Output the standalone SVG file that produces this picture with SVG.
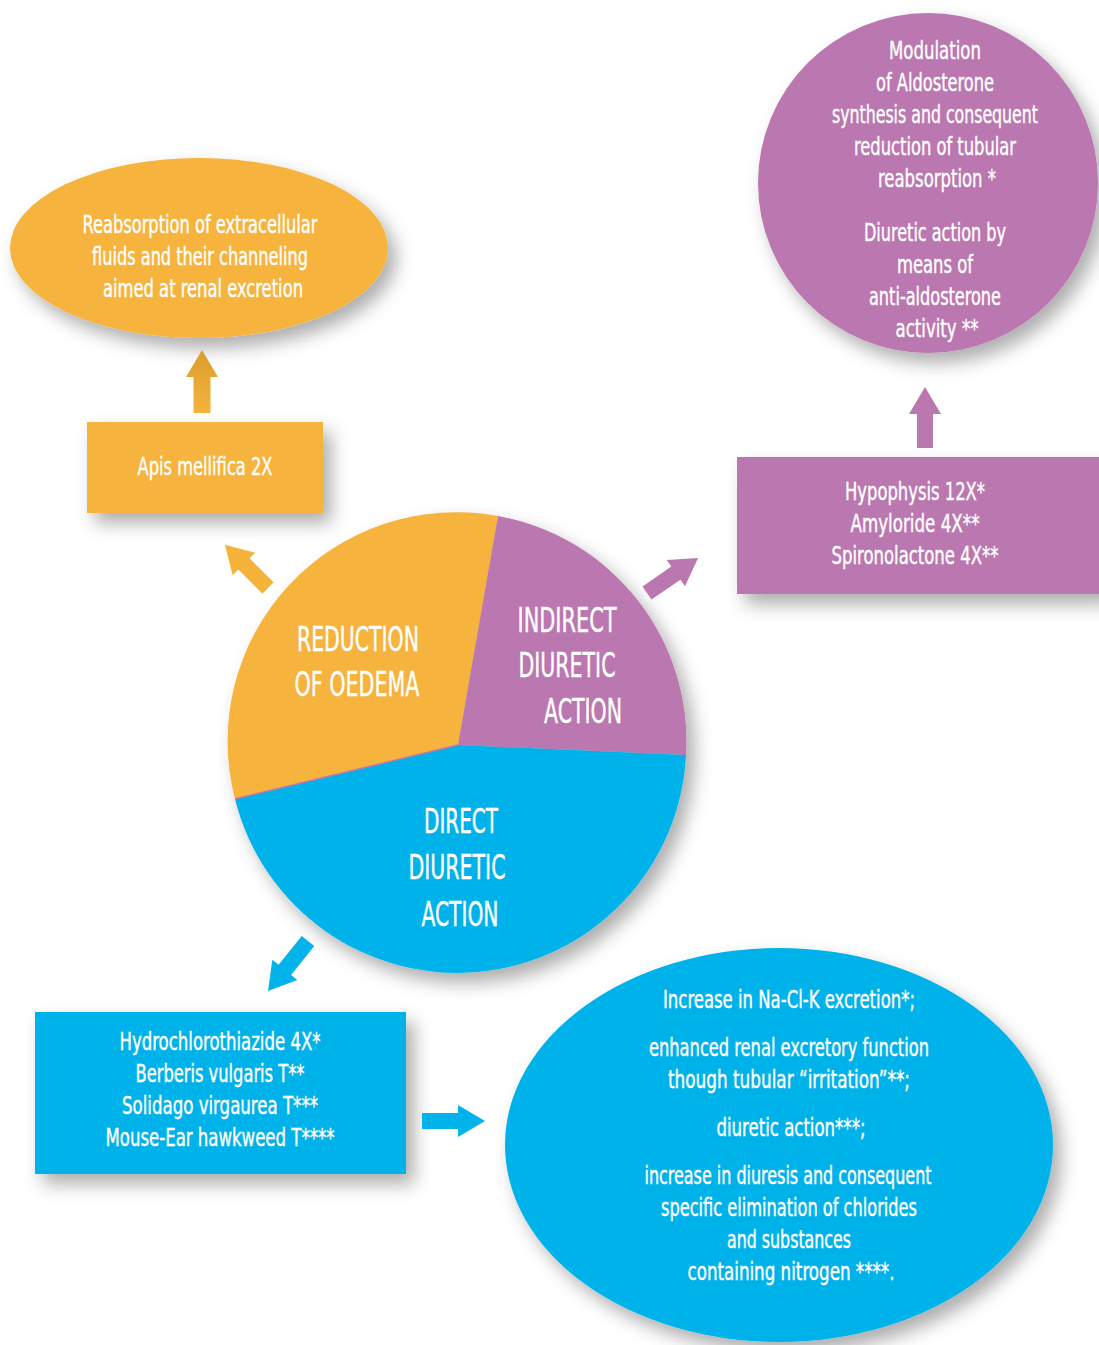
<svg xmlns="http://www.w3.org/2000/svg" width="1099" height="1345" viewBox="0 0 1099 1345">
<defs>
<filter id="sh" x="-20%" y="-20%" width="150%" height="150%">
<feDropShadow dx="8" dy="10" stdDeviation="9" flood-color="#000" flood-opacity="0.32"/>
</filter>
<linearGradient id="og" x1="0" y1="0" x2="1" y2="0">
<stop offset="0" stop-color="#F6B33C"/>
<stop offset="1" stop-color="#D99E2E"/>
</linearGradient>
<style>
text{font-family:"Liberation Sans Narrow","DejaVu Sans Condensed","Liberation Sans",sans-serif;font-stretch:condensed;fill:#fff;text-anchor:middle;stroke:#fff;stroke-width:0.4;}
.s{font-size:24px;}
.b{font-size:34px;}
.o{fill:#F6B33C;}
.p{fill:#BB77B0;}
.c{fill:#02B2EA;}
</style>
</defs>
<rect width="1099" height="1345" fill="#fff"/>

<g id="oedema-goal" filter="url(#sh)">
<ellipse class="o" cx="199" cy="248" rx="189" ry="90"/>
</g>
<g id="oedema-goal-text">
<text class="s" x="200" y="233" textLength="235" lengthAdjust="spacingAndGlyphs">Reabsorption of extracellular</text>
<text class="s" x="200" y="265" textLength="216" lengthAdjust="spacingAndGlyphs">fluids and their channeling</text>
<text class="s" x="203" y="297" textLength="200" lengthAdjust="spacingAndGlyphs">aimed at renal excretion</text>
</g>

<g id="apis" filter="url(#sh)">
<rect class="o" x="87" y="422" width="236" height="91"/>
</g>
<text class="s" x="205" y="475" textLength="135" lengthAdjust="spacingAndGlyphs">Apis mellifica 2X</text>

<g id="aldosterone-goal" filter="url(#sh)">
<ellipse class="p" cx="928" cy="183" rx="170" ry="170"/>
</g>
<g id="aldosterone-goal-text">
<text class="s" x="935" y="59" textLength="92" lengthAdjust="spacingAndGlyphs">Modulation</text>
<text class="s" x="935" y="91" textLength="118" lengthAdjust="spacingAndGlyphs">of Aldosterone</text>
<text class="s" x="935" y="123" textLength="206" lengthAdjust="spacingAndGlyphs">synthesis and consequent</text>
<text class="s" x="935" y="155" textLength="162" lengthAdjust="spacingAndGlyphs">reduction of tubular</text>
<text class="s" x="937" y="187" textLength="118" lengthAdjust="spacingAndGlyphs">reabsorption *</text>
<text class="s" x="935" y="241" textLength="142" lengthAdjust="spacingAndGlyphs">Diuretic action by</text>
<text class="s" x="935" y="273" textLength="76" lengthAdjust="spacingAndGlyphs">means of</text>
<text class="s" x="935" y="305" textLength="132" lengthAdjust="spacingAndGlyphs">anti-aldosterone</text>
<text class="s" x="937" y="337" textLength="83" lengthAdjust="spacingAndGlyphs">activity **</text>
</g>

<g id="indirect-drugs" filter="url(#sh)">
<rect class="p" x="737" y="457" width="370" height="137"/>
</g>
<g id="indirect-drugs-text">
<text class="s" x="915" y="500" textLength="140" lengthAdjust="spacingAndGlyphs">Hypophysis 12X*</text>
<text class="s" x="915" y="532" textLength="129" lengthAdjust="spacingAndGlyphs">Amyloride 4X**</text>
<text class="s" x="915" y="564" textLength="167" lengthAdjust="spacingAndGlyphs">Spironolactone 4X**</text>
</g>

<g id="pie" filter="url(#sh)">
<path class="o" d="M458,745 L235,799 A229,229 0 0 1 498,516 Z"/>
<path class="p" d="M458,745 L498,516 A229,229 0 0 1 686,755 Z"/>
<path class="c" d="M458,745 L686,755 A229,229 0 0 1 235,799 Z"/>
<line x1="458" y1="745" x2="235" y2="799" stroke="#BB77B0" stroke-width="1.5"/>
</g>
<g id="pie-text">
<text class="b" x="358" y="651" textLength="122" lengthAdjust="spacingAndGlyphs">REDUCTION</text>
<text class="b" x="357" y="696" textLength="125" lengthAdjust="spacingAndGlyphs">OF OEDEMA</text>
<text class="b" x="567" y="632" textLength="99" lengthAdjust="spacingAndGlyphs">INDIRECT</text>
<text class="b" x="567" y="677" textLength="97" lengthAdjust="spacingAndGlyphs">DIURETIC</text>
<text class="b" x="583" y="723" textLength="78" lengthAdjust="spacingAndGlyphs">ACTION</text>
<text class="b" x="461" y="833" textLength="74" lengthAdjust="spacingAndGlyphs">DIRECT</text>
<text class="b" x="457" y="879" textLength="97" lengthAdjust="spacingAndGlyphs">DIURETIC</text>
<text class="b" x="460" y="926" textLength="77" lengthAdjust="spacingAndGlyphs">ACTION</text>
</g>

<g id="direct-drugs" filter="url(#sh)">
<rect class="c" x="35" y="1012" width="371" height="162"/>
</g>
<g id="direct-drugs-text">
<text class="s" x="220" y="1050" textLength="201" lengthAdjust="spacingAndGlyphs">Hydrochlorothiazide 4X*</text>
<text class="s" x="220" y="1082" textLength="169" lengthAdjust="spacingAndGlyphs">Berberis vulgaris T**</text>
<text class="s" x="220" y="1114" textLength="196" lengthAdjust="spacingAndGlyphs">Solidago virgaurea T***</text>
<text class="s" x="220" y="1146" textLength="229" lengthAdjust="spacingAndGlyphs">Mouse-Ear hawkweed T****</text>
</g>

<g id="direct-effects" filter="url(#sh)">
<ellipse class="c" cx="779" cy="1145" rx="274" ry="197"/>
</g>
<g id="direct-effects-text">
<text class="s" x="789" y="1008" textLength="252" lengthAdjust="spacingAndGlyphs">Increase in Na-Cl-K excretion*;</text>
<text class="s" x="789" y="1056" textLength="280" lengthAdjust="spacingAndGlyphs">enhanced renal excretory function</text>
<text class="s" x="789" y="1088" textLength="242" lengthAdjust="spacingAndGlyphs">though tubular “irritation”**;</text>
<text class="s" x="791" y="1136" textLength="149" lengthAdjust="spacingAndGlyphs">diuretic action***;</text>
<text class="s" x="788" y="1184" textLength="287" lengthAdjust="spacingAndGlyphs">increase in diuresis and consequent</text>
<text class="s" x="789" y="1216" textLength="256" lengthAdjust="spacingAndGlyphs">specific elimination of chlorides</text>
<text class="s" x="789" y="1248" textLength="124" lengthAdjust="spacingAndGlyphs">and substances</text>
<text class="s" x="791" y="1280" textLength="207" lengthAdjust="spacingAndGlyphs">containing nitrogen ****.</text>
</g>

<g id="connectors">
<polygon fill="url(#og)" transform="translate(202,413) rotate(-90)" points="0,-8.5 36,-8.5 36,-16 63,0 36,16 36,8.5 0,8.5"/>
<polygon class="o" transform="translate(268,588) rotate(-135)" points="0,-8 34,-8 34,-16 61,0 34,16 34,8 0,8"/>
<polygon class="p" transform="translate(647,593) rotate(-34.5)" points="0,-8 35,-8 35,-16 62,0 35,16 35,8 0,8"/>
<polygon class="p" transform="translate(925,448) rotate(-90)" points="0,-8 34,-8 34,-16 61,0 34,16 34,8 0,8"/>
<polygon class="c" transform="translate(308,941) rotate(128.7)" points="0,-8 37,-8 37,-16 64,0 37,16 37,8 0,8"/>
<polygon class="c" transform="translate(422,1121)" points="0,-8 36,-8 36,-16 63,0 36,16 36,8 0,8"/>
</g>
</svg>
